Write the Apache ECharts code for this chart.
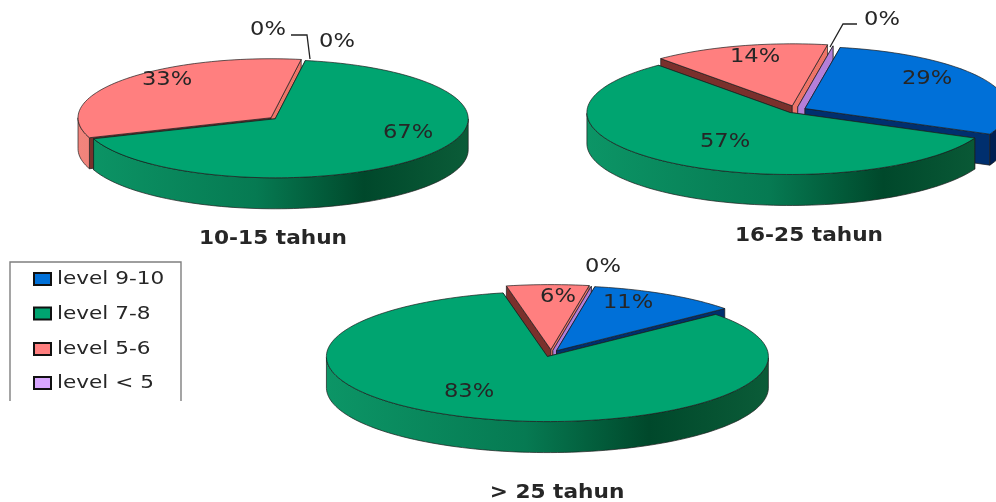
<!DOCTYPE html>
<html>
<head>
<meta charset="utf-8">
<style>html,body{margin:0;padding:0;background:#fff}#chart{width:996px;height:502px}</style>
<script src="https://cdn.jsdelivr.net/npm/echarts@6/dist/echarts.min.js"></script>
</head>
<body>
<div id="chart"></div>
<script>
// Share of staff per level, in percent, for each length-of-service group.
const categories = ['level 9-10', 'level 7-8', 'level 5-6', 'level < 5'];
const groupNames = ['10-15 tahun', '16-25 tahun', '> 25 tahun'];
const shares1015 = [0, 67, 33, 0];
const shares1625 = [29, 57, 14, 0];
const sharesOver25 = [11, 83, 6, 0];

// Face colours per level.
const topColors = ['#0070D8', '#00A470', '#FF7F7F', '#D8A6FF'];
const startWallColors = ['#002F6E', '#00573A', '#7A302C', '#B47FD8'];
const endWallColors = ['#002F6E', '#00573A', '#EE7468', '#B47FD8'];
const outerWallStops = [
  [[0, '#00409A'], [1, '#001F50']],
  [[0, '#0C9566'], [0.45, '#067A52'], [0.73, '#00482B'], [1, '#0B5C38']],
  [[0, '#F2847C'], [1, '#C85E58']],
  [[0, '#B47FD8'], [1, '#8A5CB0']]
];

const textColor = '#262626';
const textDrop = 1.5;

// Ellipse geometry, slice explosion and label anchors of each pie.
const pies = [
  { values: shares1015, center: [274, 118.5], rx: 193, ry: 59, depth: 31, startAngle: 9,
    explode: [0, 0.008, 0.02, 0], order: [2, 3, 0, 1],
    labels: [[337, 40], [408, 131], [167, 78], [268, 28]], leader: [[291, 35], [307, 35], [310, 59]] },
  { values: shares1625, center: [796, 110], rx: 203, ry: 62, depth: 31, startAngle: 10,
    explode: [0.05, 0.05, 0.07, 0.05], order: [2, 3, 0, 1],
    labels: [[927, 77], [725, 140], [755, 55], [882, 18]], leader: [[857, 24], [843, 24], [830, 47]] },
  { values: sharesOver25, center: [551, 353.5], rx: 221, ry: 65, depth: 31, startAngle: 10,
    explode: [0.05, 0.05, 0.06, 0.05], order: [2, 3, 0, 1],
    labels: [[628, 301], [469, 390], [558, 295], [603, 265]], leader: null }
];
const titleAnchors = [[273, 238], [809, 235], [557, 492]];

// One row per slice, in paint order: [radius, start %, end %, level index].
function sliceRows(pie) {
  const total = pie.values.reduce((a, b) => a + b, 0);
  let sum = 0;
  const rows = pie.values.map((v, i) => {
    const row = [1, sum / total * 100, (sum + v) / total * 100, i];
    sum += v;
    return row;
  });
  return pie.order.map(i => rows[i]);
}

function renderSlice(pie, params, api) {
  const from = api.value(1), to = api.value(2), level = api.value(3);
  const value = pie.values[level], explode = pie.explode[level];
  const label = {
    type: 'text', x: pie.labels[level][0], y: pie.labels[level][1] + textDrop, scaleX: 1.13, z2: 100,
    style: { text: Math.round(value) + '%', align: 'center', verticalAlign: 'middle', fill: textColor,
             font: '20px "DejaVu Sans"' }
  };
  if (value === 0 && explode === 0) return { type: 'group', children: [label] };

  // Polar scale gives the direction; the y component is then flattened to the ellipse.
  const [cx, cy] = pie.center;
  const flat = pct => {
    const p = api.coord([1, pct]);
    return [(p[0] - cx), (p[1] - cy) * pie.ry / pie.rx];
  };
  const mid = flat((from + to) / 2);
  const apex = [cx + mid[0] * explode, cy + mid[1] * explode];
  const rim = pct => { const f = flat(pct); return [apex[0] + f[0], apex[1] + f[1]]; };
  const down = p => [p[0], p[1] + pie.depth];

  const arc = [];
  const steps = Math.max(1, Math.ceil((to - from) * 2));
  for (let i = 0; i <= steps; i++) arc.push(rim(from + (to - from) * i / steps));

  const outline = { stroke: '#1c1c1c', lineWidth: 0.7, lineJoin: 'round' };
  const poly = (points, fill, z2) => ({ type: 'polygon', z2, shape: { points }, style: Object.assign({ fill }, outline) });
  const base = params.dataIndex * 10;
  const a = arc[0], b = arc[arc.length - 1];
  const children = [
    poly([apex, a, down(a), down(apex)], startWallColors[level], base + 1),
    poly([apex, b, down(b), down(apex)], endWallColors[level], base + 1)
  ];
  const front = arc.filter(p => p[1] >= apex[1] - 0.5);
  if (front.length > 1) {
    const fill = new echarts.graphic.LinearGradient(apex[0] - pie.rx, 0, apex[0] + pie.rx, 0,
      outerWallStops[level].map(s => ({ offset: s[0], color: s[1] })), true);
    children.push(poly(front.concat(front.map(down).reverse()), fill, base + 2));
  }
  if (value > 0) children.push(poly([apex].concat(arc), topColors[level], base + 3));
  children.push(label);
  return { type: 'group', children };
}

// Legend frame, swatches, series titles and leader lines.
const legendRows = [279, 313.5, 349, 383];
const stretchedText = (text, x, y, font, align, scaleX) => ({
  type: 'text', x, y: y + textDrop, scaleX, z: 50,
  style: { text, font, fill: textColor, align, verticalAlign: 'middle' }
});
const overlay = [
  { type: 'polyline', z: 50, shape: { points: [[10, 401], [10, 262], [181, 262], [181, 401]] },
    style: { stroke: '#7f7f7f', lineWidth: 1.4, fill: 'none' } }
];
categories.forEach((name, i) => {
  overlay.push({ type: 'rect', z: 50, shape: { x: 34, y: legendRows[i] - 6, width: 17, height: 12 },
    style: { fill: topColors[i], stroke: '#111', lineWidth: 2 } });
  overlay.push(stretchedText(name, 57, legendRows[i] - 1, '18px "DejaVu Sans"', 'left', 1.2));
});
groupNames.forEach((name, i) => {
  overlay.push(stretchedText(name, titleAnchors[i][0], titleAnchors[i][1], 'bold 19px "DejaVu Sans"', 'center', 1.14));
});
pies.forEach(pie => {
  if (pie.leader) overlay.push({ type: 'polyline', z: 50, shape: { points: pie.leader },
    style: { stroke: '#222', lineWidth: 1.3, fill: 'none' } });
});

const chart = echarts.init(document.getElementById('chart'), null, { renderer: 'canvas' });
chart.setOption({
  animation: false,
  backgroundColor: '#fff',
  polar: pies.map(p => ({ center: p.center, radius: p.rx })),
  angleAxis: pies.map((p, i) => ({ polarIndex: i, type: 'value', min: 0, max: 100,
    startAngle: 90 - p.startAngle, show: false })),
  radiusAxis: pies.map((p, i) => ({ polarIndex: i, type: 'value', min: 0, max: 1, show: false })),
  graphic: { elements: overlay },
  series: pies.map((pie, i) => ({
    type: 'custom',
    name: groupNames[i],
    coordinateSystem: 'polar',
    polarIndex: i,
    clip: false,
    silent: true,
    dimensions: ['radius', 'from', 'to', 'level'],
    encode: { radius: 0, angle: 1 },
    data: sliceRows(pie),
    renderItem: (params, api) => renderSlice(pie, params, api)
  }))
});
</script>
</body>
</html>
